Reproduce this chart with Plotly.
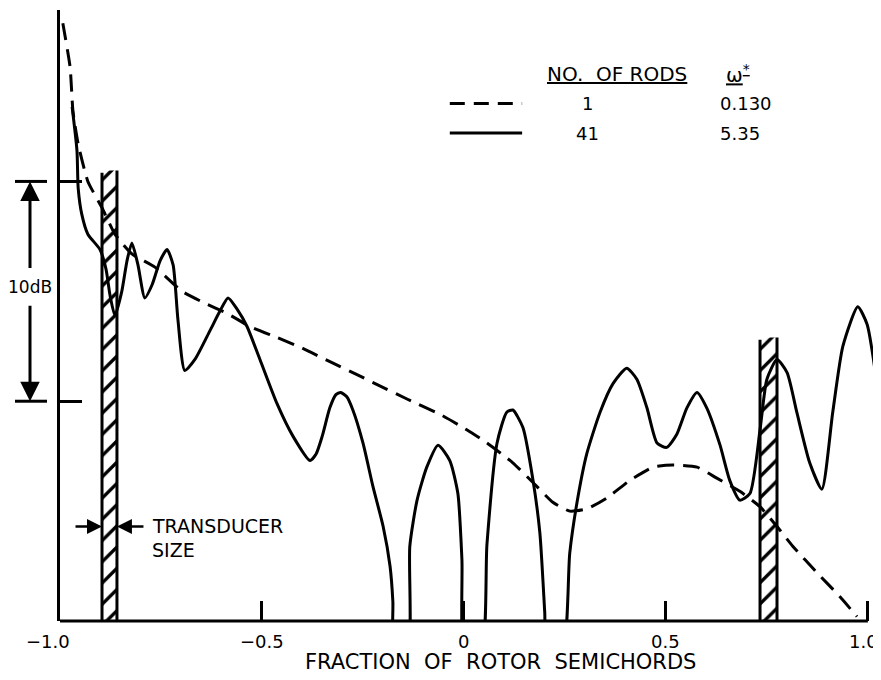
import plotly.graph_objects as go

# ---------------- data (x: fraction of rotor semichord, y: level in dB) ----------------
solid_x = [-0.970, -0.958, -0.955, -0.946, -0.931, -0.901, -0.886, -0.876, -0.864, -0.847,
           -0.834, -0.822, -0.807, -0.790, -0.772, -0.752, -0.735, -0.720, -0.708, -0.691,
           -0.666, -0.629, -0.604, -0.584, -0.562, -0.537, -0.505, -0.463, -0.423, -0.381,
           -0.366, -0.351, -0.332, -0.317, -0.305, -0.290, -0.275, -0.250, -0.225, -0.200,
           -0.183, -0.176, -0.172,
           -0.140, -0.134, -0.116, -0.092, -0.064, -0.035, -0.015, -0.005, 0.003,
           0.042, 0.057, 0.082, 0.106, 0.121, 0.146, 0.171, 0.188, 0.200, 0.206,
           0.243, 0.262, 0.280, 0.304, 0.337, 0.369, 0.403, 0.428, 0.453, 0.478,
           0.502, 0.527, 0.552, 0.577, 0.601, 0.634, 0.658, 0.683, 0.708, 0.733,
           0.750, 0.775, 0.800, 0.824, 0.856, 0.886, 0.913, 0.938, 0.975, 0.998, 1.017]
solid_y = [23.4, 21.4, 19.7, 18.5, 17.6, 16.9, 16.0, 14.8, 13.9, 15.0,
           16.4, 17.2, 16.2, 14.7, 15.3, 16.4, 16.9, 16.2, 13.7, 11.4,
           11.9, 13.2, 14.1, 14.7, 14.2, 13.4, 11.9, 9.9, 8.4, 7.3,
           7.6, 8.4, 9.7, 10.3, 10.4, 10.2, 9.6, 8.1, 6.1, 4.3,
           2.5, 0.9, -1.5,
           -1.5, 3.4, 5.5, 7.0, 8.0, 7.3, 5.8, 2.8, -1.5,
           -1.5, 3.5, 8.1, 9.5, 9.6, 8.8, 6.4, 4.0, 0.4, -1.5,
           -1.5, 3.1, 5.4, 7.6, 9.5, 10.8, 11.5, 11.0, 9.7, 8.1,
           7.9, 8.5, 9.7, 10.4, 9.7, 8.0, 6.4, 5.5, 5.8, 8.7,
           11.0, 11.9, 11.3, 9.5, 7.2, 6.0, 9.5, 12.5, 14.3, 13.5, 11.5]

dash_x = [-0.993, -0.975, -0.968, -0.955, -0.931, -0.896, -0.864, -0.822, -0.765, -0.698,
          -0.646, -0.587, -0.530, -0.463, -0.399, -0.324, -0.257, -0.225, -0.141, -0.059,
          0.007, 0.057, 0.121, 0.171, 0.220, 0.262, 0.304, 0.354, 0.411, 0.468,
          0.517, 0.577, 0.626, 0.683, 0.733, 0.775, 0.814, 0.874, 0.931, 0.973]
dash_y = [27.2, 25.2, 23.2, 21.7, 20.0, 18.8, 17.6, 16.7, 16.1, 15.0,
          14.5, 14.0, 13.4, 12.9, 12.4, 11.73, 11.14, 10.85, 10.1, 9.4,
          8.7, 8.1, 7.2, 6.3, 5.4, 5.0, 5.1, 5.6, 6.4, 7.0,
          7.1, 7.0, 6.5, 5.9, 5.2, 4.3, 3.4, 2.2, 1.1, 0.2]

# transducer bands: (x left, x right, top in dB)
bands = [(-0.896, -0.859, 20.5), (0.733, 0.775, 12.9)]

x_tick_vals = [-0.5, 0.0, 0.5, 1.0]
x_tick_labels = ["\u22121.0", "\u22120.5", "0", "0.5", "1.0"]
x_label_pos = [-1.0, -0.5, 0.0, 0.5, 1.0]
x_label_shift = [-12, 0, 0, 0, -4]
y_tick_vals = [10, 20]

legend_rods = ["1", "41"]
legend_w = ["0.130", "5.35"]

XMIN, XMAX = -1.0, 1.03
YMIN, YMAX = 0.0, 27.8

FONT = "DejaVu Sans"
INK = "black"

fig = go.Figure()

# hatched transducer bands
for (x0, x1, top) in bands:
    fig.add_trace(go.Scatter(
        x=[x0, x1, x1, x0, x0], y=[YMIN, YMIN, top, top, YMIN],
        mode="lines", fill="toself", line=dict(width=0, color=INK),
        fillcolor="white",
        fillpattern=dict(shape="/", fgcolor=INK, fgopacity=1, bgcolor="white",
                         size=15, solidity=0.22),
        hoverinfo="skip", showlegend=False))
    for xe, te in ((x0, top - 0.1), (x1, top)):
        fig.add_trace(go.Scatter(x=[xe, xe], y=[YMIN, te], mode="lines",
                                 line=dict(color=INK, width=3), showlegend=False,
                                 hoverinfo="skip"))

# curves
fig.add_trace(go.Scatter(x=dash_x, y=dash_y, mode="lines",
                         line=dict(color=INK, width=3, dash="17px,9px", shape="spline", smoothing=0.5),
                         showlegend=False))
fig.add_trace(go.Scatter(x=solid_x, y=solid_y, mode="lines",
                         line=dict(color=INK, width=3, shape="spline", smoothing=0.6),
                         showlegend=False))

shapes = []
# x axis line from -1 to 1
shapes.append(dict(type="line", xref="x", yref="paper", x0=-1.0, x1=1.0, y0=0, y1=0,
                   line=dict(color=INK, width=3)))

# 10 dB bracket (left of axis)
for v in y_tick_vals:
    shapes.append(dict(type="line", xref="paper", yref="paper",
                       x0=-45 / 820, x1=-13 / 820, y0=v / YMAX, y1=v / YMAX,
                       line=dict(color=INK, width=3)))

# legend key lines
shapes.append(dict(type="line", xref="x", yref="y", x0=-0.035, x1=0.144, y0=23.55, y1=23.55,
                   line=dict(color=INK, width=3, dash="15px,9px")))
shapes.append(dict(type="line", xref="x", yref="y", x0=-0.035, x1=0.144, y0=22.2, y1=22.2,
                   line=dict(color=INK, width=3)))

ann = []
fnt = dict(family=FONT, size=18, color=INK)
fnt_big = dict(family=FONT, size=20, color=INK)
fnt_tr = dict(family=FONT, size=19, color=INK)
# tick labels
for xv, lab, sh in zip(x_label_pos, x_tick_labels, x_label_shift):
    ann.append(dict(x=xv, y=0, xref="x", yref="paper", text=lab, showarrow=False,
                    xanchor="center", yanchor="top", yshift=-8, xshift=sh, font=fnt))
# axis title
ann.append(dict(x=0.537, y=-0.067, xref="paper", yref="paper",
                text="FRACTION  OF  ROTOR  SEMICHORDS", showarrow=False,
                xanchor="center", yanchor="middle", font=dict(family=FONT, size=21, color=INK)))

# 10dB label with arrows
xb = -30 / 820
ann.append(dict(x=xb, y=15.2 / YMAX, xref="paper", yref="paper", text="10dB",
                showarrow=False, xanchor="center", yanchor="middle",
                font=dict(family=FONT, size=17, color=INK)))
ann.append(dict(x=xb, y=20 / YMAX, xref="paper", yref="paper", text="", showarrow=True,
                ax=0, ay=88, arrowhead=2, arrowsize=1.3, arrowwidth=3, arrowcolor=INK))
ann.append(dict(x=xb, y=10 / YMAX, xref="paper", yref="paper", text="", showarrow=True,
                ax=0, ay=-97, arrowhead=2, arrowsize=1.3, arrowwidth=3, arrowcolor=INK))

# transducer size
ty = 4.3
ann.append(dict(x=bands[0][0], y=ty, xref="x", yref="y", text="", showarrow=True,
                ax=-28, ay=0, arrowhead=2, arrowsize=1.2, arrowwidth=2.5, arrowcolor=INK))
ann.append(dict(x=bands[0][1], y=ty, xref="x", yref="y", text="", showarrow=True,
                ax=28, ay=0, arrowhead=2, arrowsize=1.2, arrowwidth=2.5, arrowcolor=INK))
ann.append(dict(x=-0.778, y=ty, xref="x", yref="y", text="TRANSDUCER", showarrow=False,
                xanchor="left", yanchor="middle", font=fnt_tr))
ann.append(dict(x=-0.778, y=ty - 1.05, xref="x", yref="y", text="SIZE", showarrow=False,
                xanchor="left", yanchor="middle", font=fnt_tr))

# legend text
ann.append(dict(x=0.379, y=24.9, xref="x", yref="y", text="<u>NO.  OF RODS</u>",
                showarrow=False, xanchor="center", font=fnt_big))
ann.append(dict(x=0.678, y=24.9, xref="x", yref="y", text="<u>\u03c9<sup>*</sup></u>",
                showarrow=False, xanchor="center", font=fnt_big))
for yy, r, w in zip([23.55, 22.2], legend_rods, legend_w):
    ann.append(dict(x=0.305, y=yy, xref="x", yref="y", text=r, showarrow=False,
                    xanchor="center", font=fnt))
    ann.append(dict(x=0.629, y=yy, xref="x", yref="y", text=w, showarrow=False,
                    xanchor="left", font=fnt))

# page body has an 8px margin: size the figure so the plot lands where the reference has it
fig.update_layout(
    width=873, height=672,
    margin=dict(l=52, r=1, t=2, b=59),
    paper_bgcolor="white", plot_bgcolor="white",
    showlegend=False,
    shapes=shapes, annotations=ann,
    xaxis=dict(range=[XMIN, XMAX], showgrid=False, zeroline=False, showline=False,
               tickmode="array", tickvals=x_tick_vals, ticks="inside", ticklen=20,
               tickwidth=3, tickcolor=INK, showticklabels=False, fixedrange=True),
    yaxis=dict(range=[YMIN, YMAX], showgrid=False, zeroline=False, showline=True,
               linecolor=INK, linewidth=3, tickmode="array", tickvals=y_tick_vals,
               ticks="inside", ticklen=22, tickwidth=3, tickcolor=INK,
               showticklabels=False, fixedrange=True),
)

fig.write_html("out.html")
